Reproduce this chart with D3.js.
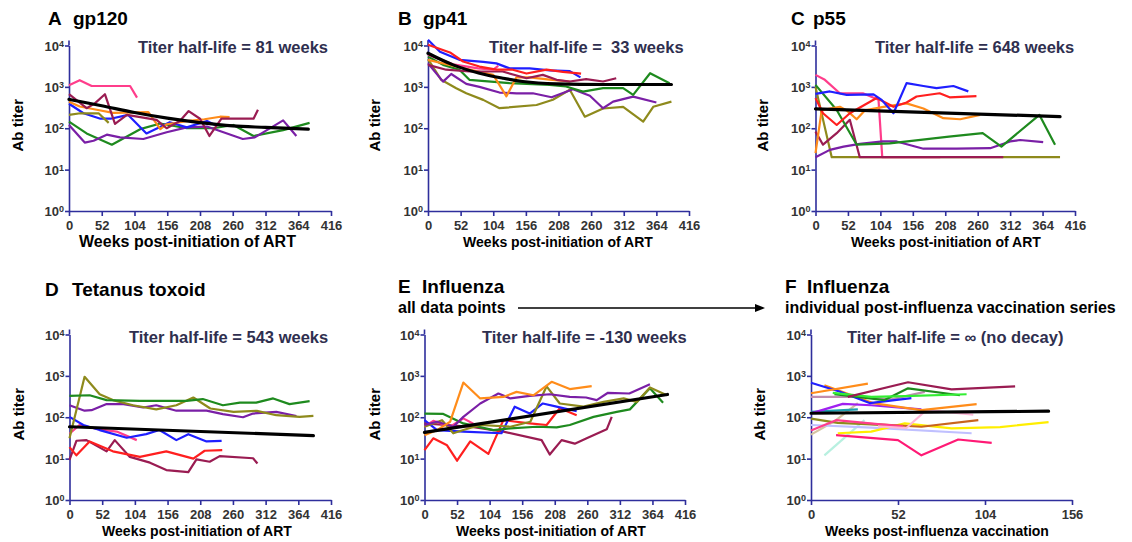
<!DOCTYPE html>
<html>
<head>
<meta charset="utf-8">
<script src="https://cdn.jsdelivr.net/npm/d3@7"></script>
<style>
  body { margin: 0; background: #fff; }
  text { font-family: Arial, "Liberation Sans", Helvetica, sans-serif; font-weight: bold; }
</style>
</head>
<body>
<svg id="chart" width="1132" height="542"></svg>
<script>
// tick values
const artWeekTicks = [0, 52, 104, 156, 208, 260, 312, 364, 416];
const fluWeekTicks = [0, 52, 104, 156];
const titerTicks = [1, 10, 100, 1000, 10000];

// [weeks, titer] per subject
const gp120 = [
  ["P6", [[0,145],[28,75],[68,40],[113,95],[145,130],[187,100],[229,100],[261,120],[293,65],[340,90],[382,135]]],
  ["P7", [[0,120],[25,45],[39,50],[60,70],[81,60],[118,55],[155,80],[187,105],[219,110],[276,55],[295,60],[340,155],[361,65]]],
  ["P1", [[0,390],[23,230],[50,170],[66,170],[94,210],[123,75],[160,140],[187,105],[219,150],[232,120]]],
  ["P5", [[0,210],[18,230],[47,230],[63,135]]],
  ["P4", [[0,440],[17,335],[44,280],[70,235],[126,245],[145,95],[155,125],[190,150],[215,165],[240,190],[255,185]]],
  ["P8", [[0,665],[28,305],[41,400],[57,665],[73,127],[92,210],[139,160],[155,100],[176,150],[190,260],[208,170],[223,65],[242,170],[293,170],[300,280]]],
  ["P3", [[0,1100],[17,1450],[36,1050],[97,1050],[108,550]]]
];
const gp120Fit = [[0,500],[52,350],[104,240],[156,175],[208,137],[260,114],[312,105],[380,95]];

const gp41 = [
  ["P5", [[0,4700],[21,1480],[45,930],[61,700],[88,485],[114,305],[173,365],[199,490],[226,850],[250,190],[279,300],[311,330],[343,145],[359,330],[388,440]]],
  ["P7", [[0,3700],[24,1340],[37,2050],[61,1180],[82,1000],[114,730],[141,700],[167,700],[197,560],[231,875],[258,610],[279,305],[295,440],[327,580],[364,420]]],
  ["P6", [[0,5400],[24,3400],[50,2600],[66,1480],[130,1230],[194,1120],[220,1020],[247,770],[279,930],[311,930],[327,640],[354,2140],[385,1230]]],
  ["P4", [[0,4500],[45,3100],[104,1950],[125,590],[141,1700],[162,1700],[194,1500],[226,1350]]],
  ["P8", [[0,3400],[29,2600],[66,2350],[119,2350],[157,1620],[183,1950],[205,1480],[226,1350],[252,1540],[279,1350],[300,1620]]],
  ["P3", [[0,6000],[40,3500],[80,2800],[104,2600],[112,3200]]],
  ["P1", [[0,13800],[19,7100],[50,4500],[88,4000],[109,3700],[130,2800],[162,2800],[194,2500],[226,2400],[243,1700]]],
  ["P2", [[0,10400],[35,6800],[56,4100],[82,3100],[109,2600],[135,2600],[157,2100],[189,2600],[215,2300],[244,2100]]]
];
const gp41Fit = [[0,6500],[40,3400],[82,2140],[120,1620],[151,1350],[205,1180],[279,1140],[388,1140]];

const p55 = [
  ["P5", [[0,1000],[26,20],[392,20]]],
  ["P3", [[0,1950],[15,1480],[39,700],[76,700],[101,490],[107,20],[200,20]]],
  ["P8", [[0,83],[12,40],[34,76],[55,160],[71,20],[301,20]]],
  ["P7", [[0,20],[23,30],[45,36],[71,42],[108,48],[130,48],[173,32],[226,32],[280,33],[312,48],[328,52],[365,46]]],
  ["P6", [[0,1120],[34,275],[66,40],[119,43],[214,63],[268,76],[298,36],[359,210],[384,40]]],
  ["P4", [[0,25],[10,275],[39,330],[50,270],[66,165],[79,270],[109,330],[146,400],[173,300],[205,175],[232,165],[264,210]]],
  ["P2", [[0,535],[12,230],[34,120],[55,230],[98,540],[125,330],[146,420],[162,585],[199,700],[215,560],[258,600]]],
  ["P1", [[0,675],[23,775],[50,640],[93,660],[106,485],[125,230],[146,1230],[173,1050],[194,930],[221,1050],[245,780]]]
];
const p55Fit = [[0,295],[392,191]];

const tetanus = [
  ["P8", [[0,9.3],[11,27],[27,28],[59,15],[72,28],[96,11],[128,8],[154,5.3],[189,4.7],[202,9.6],[223,8.4],[239,11.5],[292,10.2],[299,7.6]]],
  ["P2", [[0,19],[11,12],[32,26],[69,15],[112,11],[154,15],[197,10],[215,15.5],[243,16]]],
  ["P3", [[0,40],[16,65],[48,51],[75,45],[107,28]]],
  ["P1", [[0,102],[22,65],[48,49],[91,32],[122,39],[143,49],[170,28],[189,39],[218,26],[242,27]]],
  ["P7", [[0,195],[24,144],[35,148],[59,208],[86,208],[117,172],[138,195],[170,144],[218,144],[244,119],[276,100],[292,123],[329,135],[361,107]]],
  ["P5", [[0,31],[24,950],[48,360],[69,260],[101,195],[138,155],[170,195],[197,300],[224,163],[261,135],[298,143],[329,112],[366,102],[388,108]]],
  ["P6", [[0,330],[32,340],[59,260],[112,250],[186,250],[212,275],[244,195],[271,225],[297,225],[324,285],[350,208],[382,245]]]
];
const tetanusFit = [[0,59],[388,36]];

const fluAll = [
  ["P8", [[0,71],[73,59],[126,45],[187,28],[200,12.6],[219,28],[240,23],[259,31],[291,51],[299,102]]],
  ["P2", [[0,16],[14,31],[36,21],[52,8.9],[73,26],[102,13],[126,85],[168,71],[195,65],[216,165],[243,112]]],
  ["P3", [[0,59],[14,82],[41,59],[62,94],[78,70]]],
  ["P1", [[0,85],[20,49],[62,45],[123,41],[144,180],[168,123],[189,215],[211,180],[243,140]]],
  ["P6", [[0,123],[30,120],[62,71],[110,49],[137,54],[179,59],[211,57],[232,65],[270,102],[307,135],[328,155],[360,500],[381,225]]],
  ["P5", [[0,59],[28,85],[46,41],[62,49],[89,65],[137,59],[169,78],[195,560],[216,215],[254,180],[286,235],[318,285],[339,235],[360,525],[387,340]]],
  ["P7", [[0,65],[20,78],[46,59],[62,102],[89,215],[118,375],[137,285],[168,330],[200,360],[232,310],[258,300],[275,260],[293,390],[327,375],[360,630]]],
  ["P4", [[0,37],[20,49],[41,78],[62,690],[89,285],[126,310],[147,410],[174,340],[203,720],[232,480],[267,565]]]
];
const fluAllFit = [[0,43],[388,355]];

// individual post-vaccination series
const fluSeries = [
  ["V17", [[8,12],[32,85]]],
  ["V16", [[0,38],[14,80],[28,220]]],
  ["V18", [[15,37],[52,28],[66,12],[88,29],[108,24]]],
  ["V15", [[0,65],[36,56],[96,41]]],
  ["V14", [[16,41],[36,45],[56,71],[84,54],[113,58],[142,76]]],
  ["V13", [[30,71],[66,59],[100,85]]],
  ["V11", [[0,93],[16,73],[46,64]]],
  ["V12", [[0,48],[15,85],[40,68],[55,60]]],
  ["V10", [[40,60],[57,55],[69,150],[97,115]]],
  ["V9",  [[0,135],[28,155]]],
  ["V8",  [[0,124],[19,210],[36,195],[66,155]]],
  ["V3",  [[8,590],[37,220],[66,148],[99,208]]],
  ["V7",  [[0,310],[32,310],[48,270],[68,410]]],
  ["V1",  [[0,680],[17,420],[35,220],[60,290]]],
  ["V5",  [[14,360],[44,260],[58,500],[89,340]]],
  ["V6",  [[13,390],[36,310],[56,325],[93,360]]],
  ["V2",  [[0,380],[34,650]]],
  ["V4",  [[22,310],[58,700],[84,470],[122,560]]]
];
const fluSeriesFit = [[0,125],[142,140]];

// colours
const subjectColor = {
  P1: "#1f1fff", P2: "#ff1f1f", P3: "#ff3d8b", P4: "#ff8c1a",
  P5: "#8e8a1c", P6: "#1e8a1e", P7: "#7a1fa6", P8: "#9a1c52",
  V1: "#1f1fff", V2: "#ff8c1a", V3: "#ff8c1a", V4: "#9a1c52",
  V5: "#1e8a1e", V6: "#33ee33", V7: "#c08cb0", V8: "#a020f0",
  V9: "#1fa0b0", V10: "#ffb8d8", V11: "#8e8a1c", V12: "#ff3d8b",
  V13: "#c8641e", V14: "#ffee00", V15: "#c0c0ff", V16: "#d4c4a0",
  V17: "#b8f0e0", V18: "#ff1a75"
};
const axisColor = "#2e2e9c";

const panels = [
  { letter: "A", name: "gp120", nameDx: 25, series: gp120, fit: gp120Fit, note: "Titer half-life = 81 weeks",
    x0: 69, x1: 331, top: 45.5, bot: 211, xMax: 416, ticks: artWeekTicks, xLabel: "Weeks post-initiation of ART",
    xLabelX: 187.5, xLabelSize: 16, titleX: 48, titleY: 25, noteX: 138, noteY: 53, yLabelX: 23 },
  { letter: "B", name: "gp41", nameDx: 25, series: gp41, fit: gp41Fit, note: "Titer half-life =  33 weeks",
    x0: 428, x1: 689, top: 45.5, bot: 211, xMax: 416, ticks: artWeekTicks, xLabel: "Weeks post-initiation of ART",
    xLabelX: 558, xLabelSize: 14, titleX: 398, titleY: 25, noteX: 489, noteY: 53, yLabelX: 380 },
  { letter: "C", name: "p55", nameDx: 22, series: p55, fit: p55Fit, note: "Titer half-life = 648 weeks",
    x0: 815.5, x1: 1075, top: 45.5, bot: 211, xMax: 416, ticks: artWeekTicks, xLabel: "Weeks post-initiation of ART",
    xLabelX: 946, xLabelSize: 14, titleX: 791, titleY: 25, noteX: 875, noteY: 53, yLabelX: 768 },
  { letter: "D", name: "Tetanus toxoid", nameDx: 27, series: tetanus, fit: tetanusFit, note: "Titer half-life = 543 weeks",
    x0: 69.5, x1: 331, top: 334.5, bot: 500, xMax: 416, ticks: artWeekTicks, xLabel: "Weeks post-initiation of ART",
    xLabelX: 197, xLabelSize: 14, titleX: 45, titleY: 296, noteX: 129, noteY: 343, yLabelX: 24 },
  { letter: "E", name: "Influenza", nameDx: 24, sub: "all data points", series: fluAll, fit: fluAllFit, note: "Titer half-life = -130 weeks",
    x0: 424.5, x1: 685, top: 334.5, bot: 500, xMax: 416, ticks: artWeekTicks, xLabel: "Weeks post-initiation of ART",
    xLabelX: 551, xLabelSize: 14, titleX: 398, titleY: 293, noteX: 482, noteY: 343, yLabelX: 380 },
  { letter: "F", name: "Influenza", nameDx: 22, sub: "individual post-influenza vaccination series", series: fluSeries, fit: fluSeriesFit, note: "Titer half-life = \u221e (no decay)",
    x0: 811, x1: 1072, top: 334.5, bot: 500, xMax: 156, ticks: fluWeekTicks, xLabel: "Weeks post-influenza vaccination",
    xLabelX: 937, xLabelSize: 14, titleX: 785, titleY: 293, noteX: 847, noteY: 343, yLabelX: 765 }
];

const svg = d3.select("#chart");

panels.forEach(p => {
  const g = svg.append("g");
  const x = d3.scaleLinear().domain([0, p.xMax]).range([p.x0, p.x1]);
  const y = d3.scaleLog().domain([1, 1e4]).range([p.bot, p.top]);

  // axes
  const xa = g.append("g")
    .attr("transform", `translate(0,${p.bot})`)
    .call(d3.axisBottom(x).tickValues(p.ticks).tickSize(5).tickSizeOuter(0).tickPadding(5));
  xa.selectAll("text").style("font-size", "13px").attr("fill", "#333");

  const ya = g.append("g")
    .attr("transform", `translate(${p.x0},0)`)
    .call(d3.axisLeft(y).tickValues(titerTicks).tickSize(4).tickSizeOuter(0).tickFormat(""));
  ya.selectAll(".tick").each(function(d) {
    const t = d3.select(this).append("text")
      .attr("x", -5).attr("dy", "0.35em")
      .attr("text-anchor", "end").attr("fill", "#333")
      .style("font-size", "13px");
    t.append("tspan").text("10");
    t.append("tspan").attr("dy", "-0.45em").style("font-size", "9px").text(Math.round(Math.log10(d)));
  });
  // axis runs a little past the top tick
  g.append("line")
    .attr("x1", p.x0).attr("x2", p.x0).attr("y1", p.top).attr("y2", p.top - 5);

  g.selectAll(".domain, .tick line, line").attr("stroke", axisColor).attr("stroke-width", 1.6);

  // subject lines
  const line = d3.line().x(d => x(d[0])).y(d => y(d[1]));
  g.selectAll("path.series")
    .data(p.series)
    .enter().append("path")
    .attr("class", "series")
    .attr("d", d => line(d[1]))
    .attr("fill", "none")
    .attr("stroke", d => subjectColor[d[0]])
    .attr("stroke-width", 2.2)
    .attr("stroke-linejoin", "round");

  // fitted decay curve
  g.append("path")
    .attr("d", d3.line().curve(d3.curveMonotoneX).x(d => x(d[0])).y(d => y(d[1]))(p.fit))
    .attr("fill", "none")
    .attr("stroke", "#000")
    .attr("stroke-width", 3.2)
    .attr("stroke-linecap", "round");

  // texts
  const title = g.append("text").attr("x", p.titleX).attr("y", p.titleY)
    .style("font-size", "19px").attr("fill", "#000");
  title.append("tspan").text(p.letter);
  title.append("tspan").attr("x", p.titleX + p.nameDx).text(p.name);

  if (p.sub) {
    g.append("text").attr("x", p.titleX).attr("y", p.titleY + 20)
      .style("font-size", "16px").attr("fill", "#000").text(p.sub);
  }

  g.append("text").attr("x", p.noteX).attr("y", p.noteY)
    .style("font-size", "16.5px").style("white-space", "pre")
    .attr("fill", "#2f2f4f").text(p.note);

  g.append("text")
    .attr("transform", `translate(${p.yLabelX},${(p.top + p.bot) / 2 - 3}) rotate(-90)`)
    .attr("text-anchor", "middle").style("font-size", "15px").attr("fill", "#000")
    .text("Ab titer");

  g.append("text")
    .attr("x", p.xLabelX).attr("y", p.bot + 36)
    .attr("text-anchor", "middle").style("font-size", p.xLabelSize + "px").attr("fill", "#000")
    .text(p.xLabel);
});

// arrow from panel E to panel F
svg.append("line")
  .attr("x1", 518).attr("x2", 757).attr("y1", 308).attr("y2", 308)
  .attr("stroke", "#000").attr("stroke-width", 1.4);
svg.append("path")
  .attr("d", "M765,308 L755,304 L755,312 Z")
  .attr("fill", "#000");
</script>
</body>
</html>
